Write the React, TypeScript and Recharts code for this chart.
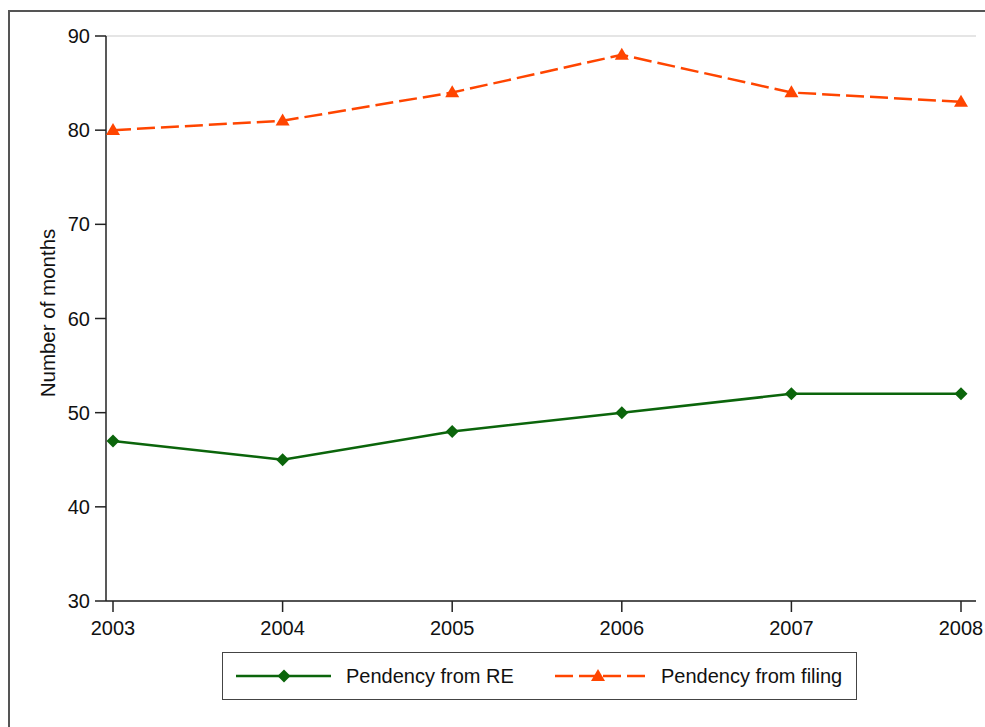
import React from 'react';
import { LineChart, Line, XAxis, YAxis, CartesianGrid, Legend } from 'recharts';

const years = ['2003', '2004', '2005', '2006', '2007', '2008'];
const pendencyFromRE = [47, 45, 48, 50, 52, 52];
const pendencyFromFiling = [80, 81, 84, 88, 84, 83];
const yTicks = [30, 40, 50, 60, 70, 80, 90];

const data = years.map((y, i) => ({ year: y, re: pendencyFromRE[i], filing: pendencyFromFiling[i] }));

const GREEN = '#0b650b';
const ORANGE = '#ff4500';
const FONT = 'Liberation Sans, Arial, sans-serif';

const Diamond = (props: any) => {
  const { cx, cy, index } = props;
  if (cx == null || cy == null) return <g key={index} />;
  const r = 6.5;
  return <polygon key={index} points={`${cx},${cy - r} ${cx + r},${cy} ${cx},${cy + r} ${cx - r},${cy}`} fill={GREEN} stroke="none" />;
};

const Triangle = (props: any) => {
  const { cx, cy, index } = props;
  if (cx == null || cy == null) return <g key={index} />;
  const w = 7, h = 12;
  return <polygon key={index} points={`${cx},${cy - h * 0.6} ${cx + w},${cy + h * 0.4} ${cx - w},${cy + h * 0.4}`} fill={ORANGE} stroke="none" />;
};

const LegendContent = () => (
  <div style={{ width: 635, height: 48, border: '1px solid #444', boxSizing: 'border-box', background: '#fff' }}>
    <svg width={633} height={46} style={{ display: 'block' }}>
      <line x1={13} x2={108} y1={23} y2={23} stroke={GREEN} strokeWidth={2.5} />
      <polygon points="61,16.5 67.5,23 61,29.5 54.5,23" fill={GREEN} />
      <text x={123} y={23} dominantBaseline="central" fontFamily={FONT} fontSize={20} fill="#111">Pendency from RE</text>
      <line x1={330} x2={423} y1={23} y2={23} stroke={ORANGE} strokeWidth={2.5} strokeDasharray="18 6" strokeDashoffset={-2} />
      <polygon points="375,16 382,28 368,28" fill={ORANGE} />
      <text x={438} y={23} dominantBaseline="central" fontFamily={FONT} fontSize={20} fill="#111">Pendency from filing</text>
    </svg>
  </div>
);

const YLabel = () => (
  <text x={47} y={313} transform="rotate(-90, 47, 313)" textAnchor="middle" dominantBaseline="central" fontFamily={FONT} fontSize={20.5} fill="#111">
    Number of months
  </text>
);

export default function App() {
  return (
    <div style={{ position: 'fixed', left: 0, top: 0, width: 985, height: 727, overflow: 'hidden', background: '#fff' }}>
      <div style={{ position: 'absolute', left: 8, top: 10, width: 1200, height: 1000, border: '2px solid #555', boxSizing: 'border-box' }} />
      <div style={{ position: 'absolute', left: 0, top: 0 }}>
        <LineChart width={985} height={727} data={data} margin={{ top: 36, right: 9, bottom: 38, left: 46 }} style={{ fontFamily: FONT }}>
          <CartesianGrid vertical={false} stroke="#dcdcdc" strokeWidth={1.5} />
          <XAxis
            dataKey="year"
            padding={{ left: 7, right: 15 }}
            height={40}
            tickSize={11}
            tickMargin={9}
            axisLine={{ stroke: '#222', strokeWidth: 1.5 }}
            tickLine={{ stroke: '#222', strokeWidth: 1.5 }}
            tick={{ fontSize: 20, fill: '#111', fontFamily: FONT }}
            interval={0}
          />
          <YAxis
            yAxisId="left"
            domain={[30, 90]}
            ticks={yTicks}
            width={60}
            tickSize={11}
            tickMargin={5}
            axisLine={{ stroke: '#222', strokeWidth: 1.5 }}
            tickLine={{ stroke: '#222', strokeWidth: 1.5 }}
            tick={{ fontSize: 20, fill: '#111', fontFamily: FONT }}
            label={<YLabel />}
          />
          <YAxis
            yAxisId="right"
            orientation="right"
            domain={[30, 90]}
            width={0}
            tick={false}
            tickLine={false}
            axisLine={{ stroke: '#aaa', strokeWidth: 1.5 }}
          />
          <Line yAxisId="left" type="linear" dataKey="re" stroke={GREEN} strokeWidth={2.5} dot={<Diamond />} activeDot={false} isAnimationActive={false} />
          <Line yAxisId="left" type="linear" dataKey="filing" stroke={ORANGE} strokeWidth={2.5} strokeDasharray="18 6" dot={<Triangle />} activeDot={false} isAnimationActive={false} />
          <Legend content={<LegendContent />} wrapperStyle={{ position: 'absolute', left: 222, top: 652, width: 635, height: 48 }} />
        </LineChart>
      </div>
    </div>
  );
}
